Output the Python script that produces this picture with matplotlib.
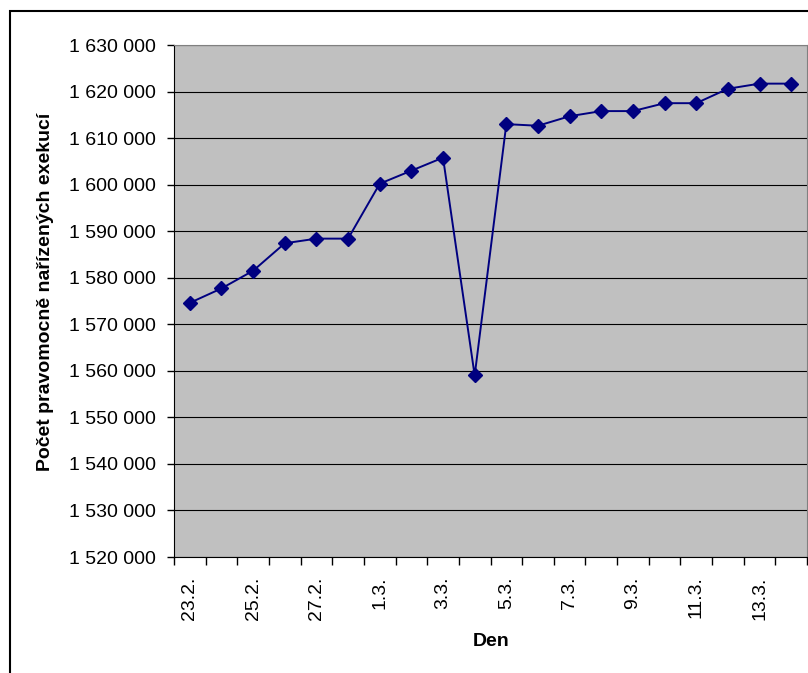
"""Excel-style line chart: daily count of enforceable executions (Feb/Mar)."""
import matplotlib
matplotlib.use('Agg')
import matplotlib.pyplot as plt
from matplotlib.patches import Rectangle
from matplotlib.ticker import FuncFormatter, FixedLocator

plt.rcParams['font.family'] = ['Liberation Sans', 'DejaVu Sans']

# ── Data ─────────────────────────────────────────────────────────────────────
days = ['23.2.', '24.2.', '25.2.', '26.2.', '27.2.', '28.2.',
        '1.3.', '2.3.', '3.3.', '4.3.', '5.3.', '6.3.', '7.3.', '8.3.',
        '9.3.', '10.3.', '11.3.', '12.3.', '13.3.', '14.3.']
counts = [1574600, 1577700, 1581500, 1587400, 1588400, 1588400,
          1600200, 1603000, 1605800, 1559000, 1613000, 1612650,
          1614700, 1615800, 1615800, 1617500, 1617500, 1620600,
          1621700, 1621700]
y_ticks = list(range(1520000, 1630001, 10000))

NAVY = '#000080'
PLOT_BG = '#C0C0C0'

# ── Canvas ───────────────────────────────────────────────────────────────────
W, H = 808, 673
fig = plt.figure(figsize=(W / 100, H / 100), dpi=100)
fig.patch.set_facecolor('white')

# chart-area border (cropped at right and bottom in the original)
fig.add_artist(Rectangle((10 / W, -0.1), 1.2, 1 - 11 / H + 0.1,
                         transform=fig.transFigure, fill=False,
                         edgecolor='black', lw=1.5))

ax = fig.add_axes([174 / W, 1 - 557 / H, (807 - 174) / W, (557 - 45) / H])
ax.set_facecolor(PLOT_BG)

x = list(range(len(days)))
ax.plot(x, counts, color=NAVY, lw=1.4, marker='D', markersize=7,
        markerfacecolor=NAVY, markeredgecolor=NAVY, zorder=3)

ax.set_xlim(-0.5, len(days) - 0.5)
ax.set_ylim(y_ticks[0], y_ticks[-1])

# y axis
ax.set_yticks(y_ticks)
ax.yaxis.set_major_formatter(FuncFormatter(lambda v, _: f'{int(v):,}'.replace(',', ' ')))
ax.grid(axis='y', color='black', lw=0.8)
ax.tick_params(axis='y', direction='out', length=5, width=1, pad=8, labelsize=14)

# x axis: tick marks between categories, labels on every other day
ax.xaxis.set_major_locator(FixedLocator([i - 0.5 for i in range(len(days) + 1)]))
ax.set_xticklabels([])
lab_pos = x[::2]
ax.xaxis.set_minor_locator(FixedLocator(lab_pos))
ax.set_xticklabels([days[i] for i in lab_pos], minor=True)
ax.tick_params(axis='x', which='major', direction='out', length=6, width=1)
ax.tick_params(axis='x', which='minor', length=0, pad=14, labelsize=14, labelrotation=90)

for s in ('top', 'right'):
    ax.spines[s].set_color('#808080')
for s in ('left', 'bottom'):
    ax.spines[s].set_color('black')
ax.set_axisbelow(True)

fig.text(46 / W, 1 - 292 / H, 'Počet pravomocně nařízených exekucí',
         rotation=90, ha='center', va='center', fontsize=14, fontweight='bold')
fig.text(491 / W, 1 - 641 / H, 'Den', ha='center', va='center',
         fontsize=14, fontweight='bold')

fig.savefig('out.png', dpi=100, facecolor='white')
